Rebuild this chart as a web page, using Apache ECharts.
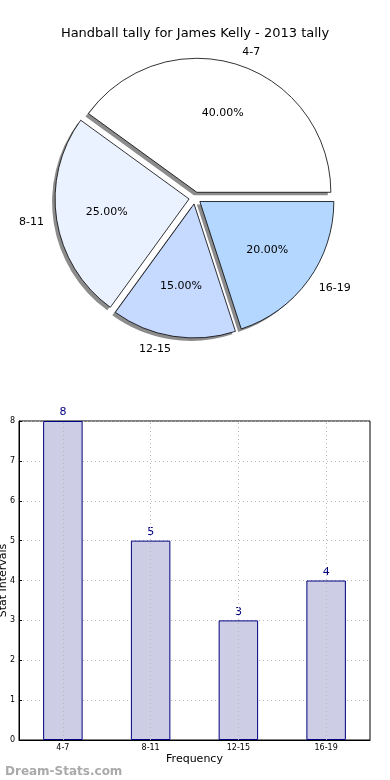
<!DOCTYPE html>
<html><head><meta charset="utf-8">
<script src="https://cdn.jsdelivr.net/npm/echarts@6/dist/echarts.min.js"></script>
<style>html,body{margin:0;padding:0;background:#fff}#c{width:390px;height:780px}</style>
</head><body><div id="c"></div>
<script>
const categories = ['4-7', '8-11', '12-15', '16-19'];
const counts = [8, 5, 3, 4];
const pieColors = ['#ffffff', '#ebf2ff', '#c6d9ff', '#b4d7ff'];
const yTicks = [0, 1, 2, 3, 4, 5, 6, 7, 8];
const titleText = 'Handball tally for James Kelly - 2013 tally';
const yName = 'Stat Intervals';
const xName = 'Frequency';
const watermark = 'Dream-Stats.com';

const total = counts.reduce((a, b) => a + b, 0);
const FONT = 'DejaVu Sans';
const PC = [195, 198], PR = 134, OFF = 6;

const pieData = categories.map((c, i) => ({ name: c, value: counts[i], selected: true, itemStyle: { color: pieColors[i] } }));
const plainData = categories.map((c, i) => ({ name: c, value: counts[i], selected: true }));

const chart = echarts.init(document.getElementById('c'), null, { renderer: 'canvas' });
chart.setOption({
  animation: false,
  textStyle: { fontFamily: FONT },
  title: [
    { text: titleText, left: 'center', top: 22, textStyle: { fontFamily: FONT, fontSize: 13, fontWeight: 'normal', color: '#000' } },
    { text: watermark, left: 0, top: 761, textStyle: { fontFamily: FONT, fontSize: 12, fontWeight: 'bold', color: '#aaaaaa' } }
  ],
  grid: { left: 19, right: 20, top: 421, bottom: 40, show: true, borderColor: '#000', borderWidth: 1, containLabel: false, outerBoundsMode: 'none' },
  xAxis: {
    type: 'category', data: categories, boundaryGap: true,
    name: xName, nameLocation: 'middle', nameGap: 14, nameMoveOverlap: false,
    nameTextStyle: { fontFamily: FONT, fontSize: 11, color: '#000' },
    axisLine: { lineStyle: { color: '#000' } },
    axisTick: { show: false },
    axisLabel: { fontSize: 8, color: '#000', margin: 4 },
    splitLine: { show: false }
  },
  yAxis: {
    type: 'value', min: 0, max: 8, interval: 1,
    name: yName, nameLocation: 'middle', nameGap: 10.5, nameMoveOverlap: false,
    nameTextStyle: { fontFamily: FONT, fontSize: 11, color: '#000' },
    axisLine: { show: true, lineStyle: { color: '#000' } },
    axisTick: { show: true, inside: true, length: 3, lineStyle: { color: '#000' } },
    axisLabel: { fontSize: 8, color: '#000', margin: 4, formatter: v => yTicks.includes(v) ? String(v) : '' },
    splitLine: { show: true, lineStyle: { color: '#b8b8b8', type: [1, 3], width: 1 } }
  },
  series: [
    {
      type: 'pie', center: [PC[0] - 3, PC[1] + 3], radius: [0, PR], startAngle: 0, clockwise: false,
      selectedMode: 'multiple', selectedOffset: OFF, silent: true, z: 1,
      itemStyle: { color: '#8c8c8c', borderWidth: 0 },
      label: { show: false }, labelLine: { show: false },
      emphasis: { disabled: true },
      data: plainData
    },
    {
      type: 'pie', center: PC, radius: [0, PR], startAngle: 0, clockwise: false,
      selectedMode: 'multiple', selectedOffset: OFF, avoidLabelOverlap: false,
      silent: true, z: 2,
      itemStyle: { borderColor: '#000', borderWidth: 0.8 },
      label: { show: true, position: 'outside', formatter: '{b}', fontSize: 11, color: '#000', distanceToLabelLine: 0 },
      labelLine: { show: false, length: 13, length2: 0 },
      emphasis: { disabled: true },
      data: pieData
    },
    {
      type: 'pie', center: PC, radius: [PR * 0.2, PR], startAngle: 0, clockwise: false,
      selectedMode: 'multiple', selectedOffset: OFF, avoidLabelOverlap: false,
      silent: true, z: 3,
      itemStyle: { color: 'rgba(0,0,0,0)', borderWidth: 0, opacity: 0 },
      label: { show: true, position: 'inside', opacity: 1, formatter: p => (p.value / total * 100).toFixed(2) + '%', fontSize: 11, color: '#000' },
      labelLine: { show: false },
      emphasis: { disabled: true },
      data: plainData
    },
    {
      type: 'bar', data: counts, barWidth: '45%',
      itemStyle: { color: '#cdcde6', borderColor: '#000080', borderWidth: 1 },
      label: { show: true, position: 'top', color: '#000080', fontSize: 11, distance: 3 },
      markLine: {
        silent: true, symbol: 'none', label: { show: false },
        lineStyle: { color: '#b8b8b8', type: [1, 3], width: 1 },
        data: categories.map(c => ({ xAxis: c }))
      }
    }
  ]
});
</script></body></html>
